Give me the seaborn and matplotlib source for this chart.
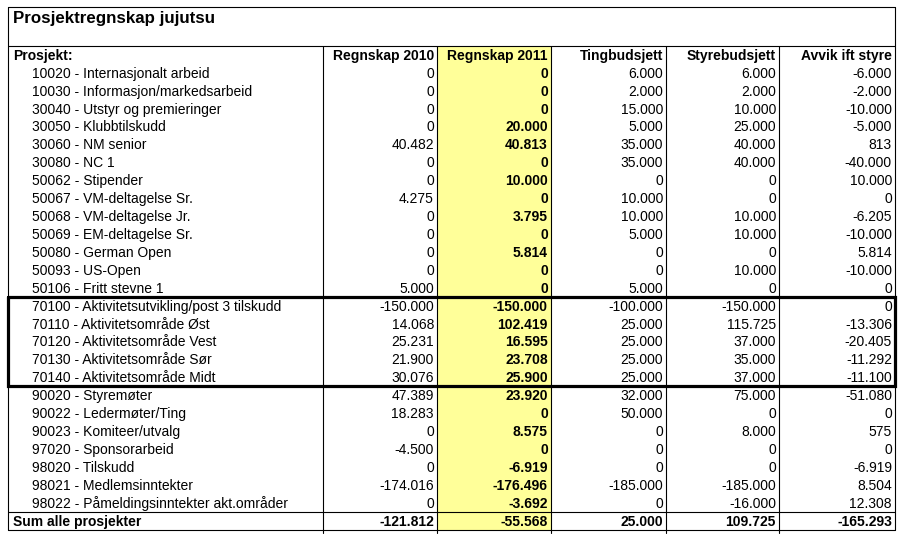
import matplotlib

matplotlib.use("Agg")
import matplotlib.pyplot as plt
import pandas as pd
import seaborn as sns


TITLE = "Prosjektregnskap jujutsu"
HEADERS = ["Prosjekt:", "Regnskap 2010", "Regnskap 2011", "Tingbudsjett",
           "Styrebudsjett", "Avvik ift styre"]

projects = [
    "10020 - Internasjonalt arbeid",
    "10030 - Informasjon/markedsarbeid",
    "30040 - Utstyr og premieringer",
    "30050 - Klubbtilskudd",
    "30060 - NM senior",
    "30080 - NC 1",
    "50062 - Stipender",
    "50067 - VM-deltagelse Sr.",
    "50068 - VM-deltagelse Jr.",
    "50069 - EM-deltagelse Sr.",
    "50080 - German Open",
    "50093 - US-Open",
    "50106 - Fritt stevne 1",
    "70100 - Aktivitetsutvikling/post 3 tilskudd",
    "70110 - Aktivitetsområde Øst",
    "70120 - Aktivitetsområde Vest",
    "70130 - Aktivitetsområde Sør",
    "70140 - Aktivitetsområde Midt",
    "90020 - Styremøter",
    "90022 - Ledermøter/Ting",
    "90023 - Komiteer/utvalg",
    "97020 - Sponsorarbeid",
    "98020 - Tilskudd",
    "98021 - Medlemsinntekter",
    "98022 - Påmeldingsinntekter akt.områder",
]
regnskap_2010 = [0, 0, 0, 0, 40482, 0, 0, 4275, 0, 0, 0, 0, 5000,
                 -150000, 14068, 25231, 21900, 30076,
                 47389, 18283, 0, -4500, 0, -174016, 0]
regnskap_2011 = [0, 0, 0, 20000, 40813, 0, 10000, 0, 3795, 0, 5814, 0, 0,
                 -150000, 102419, 16595, 23708, 25900,
                 23920, 0, 8575, 0, -6919, -176496, -3692]
tingbudsjett = [6000, 2000, 15000, 5000, 35000, 35000, 0, 10000, 10000, 5000,
                0, 0, 5000,
                -100000, 25000, 25000, 25000, 25000,
                32000, 50000, 0, 0, 0, -185000, 0]
styrebudsjett = [6000, 2000, 10000, 25000, 40000, 40000, 0, 0, 10000, 10000,
                 0, 10000, 0,
                 -150000, 115725, 37000, 35000, 37000,
                 75000, 0, 8000, 0, 0, -185000, -16000]
avvik = [-6000, -2000, -10000, -5000, 813, -40000, 10000, 0, -6205, -10000,
         5814, -10000, 0,
         0, -13306, -20405, -11292, -11100,
         -51080, 0, 575, 0, -6919, 8504, 12308]
sum_label = "Sum alle prosjekter"
sum_values = [-121812, -55568, 25000, 109725, -165293]

# rows framed by the thick box (70100 .. 70140)
boxed_first, boxed_last = 13, 17

df = pd.DataFrame({
    "prosjekt": projects,
    "r2010": regnskap_2010,
    "r2011": regnskap_2011,
    "ting": tingbudsjett,
    "styre": styrebudsjett,
    "avvik": avvik,
})
value_cols = ["r2010", "r2011", "ting", "styre", "avvik"]


def fmt(v):
    return f"{v:,}".replace(",", ".")


sns.set_theme(style="white")
plt.rcParams["font.family"] = ["Liberation Sans", "DejaVu Sans"]
plt.rcParams["text.color"] = "black"

W, H = 903, 545
fig = plt.figure(figsize=(W / 100, H / 100), dpi=100)
ax = fig.add_axes([0, 0, 1, 1])
ax.set_xlim(0, W)
ax.set_ylim(H, 0)
ax.axis("off")

# layout in pixels
left, right = 8, 895
title_top = 7
table_top = 46
row_h = 17.92
col_edges = [left, 323, 437, 551, 666, 779, right]
n_rows = len(df) + 2  # header + data + sum
table_bottom = table_top + n_rows * row_h
fs = 10
thin = 0.8


def row_y(i):
    return table_top + (i + 0.5) * row_h + 0.8


# yellow highlight for Regnskap 2011
ax.axvspan(col_edges[2], col_edges[3],
           ymin=1 - table_bottom / H, ymax=1 - table_top / H,
           color="#FFFF99", lw=0, zorder=0)

# title
ax.text(13, 19, TITLE, fontsize=12.2, fontweight="bold", va="center",
        ha="left")

# borders
ax.plot([left, left], [title_top, table_bottom], color="black", lw=thin)
ax.plot([right, right], [title_top, table_bottom], color="black", lw=thin)
ax.plot([left, right], [title_top, title_top], color="black", lw=thin)
ax.plot([left, right], [table_top, table_top], color="black", lw=thin)
sum_top = table_top + (n_rows - 1) * row_h
ax.plot([left, right], [sum_top, sum_top], color="black", lw=thin)
ax.plot([left, right], [table_bottom, table_bottom], color="black", lw=thin)
for x in col_edges[1:-1]:
    ax.plot([x, x], [table_top, table_bottom + 3], color="black", lw=thin)

# thick box
box_top = table_top + (boxed_first + 1) * row_h
box_bottom = table_top + (boxed_last + 2) * row_h
ax.plot([left, right, right, left, left],
        [box_top, box_top, box_bottom, box_bottom, box_top],
        color="black", lw=2.3, solid_joinstyle="miter")

# header
ax.text(13, row_y(0), HEADERS[0], fontsize=fs, fontweight="bold",
        va="center", ha="left")
for j, h in enumerate(HEADERS[1:]):
    ax.text(col_edges[j + 2] - 3, row_y(0), h, fontsize=fs,
            fontweight="bold", va="center", ha="right")

# data rows
for i, row in df.iterrows():
    y = row_y(i + 1)
    ax.text(32, y, row["prosjekt"], fontsize=fs, va="center", ha="left")
    for j, c in enumerate(value_cols):
        ax.text(col_edges[j + 2] - 3, y, fmt(row[c]), fontsize=fs,
                va="center", ha="right",
                fontweight="bold" if c == "r2011" else "normal")

# sum row
y = row_y(n_rows - 1)
ax.text(13, y, sum_label, fontsize=fs, fontweight="bold", va="center",
        ha="left")
for j, v in enumerate(sum_values):
    ax.text(col_edges[j + 2] - 3, y, fmt(v), fontsize=fs, fontweight="bold",
            va="center", ha="right")

fig.savefig("out.png", dpi=100, facecolor="white")
